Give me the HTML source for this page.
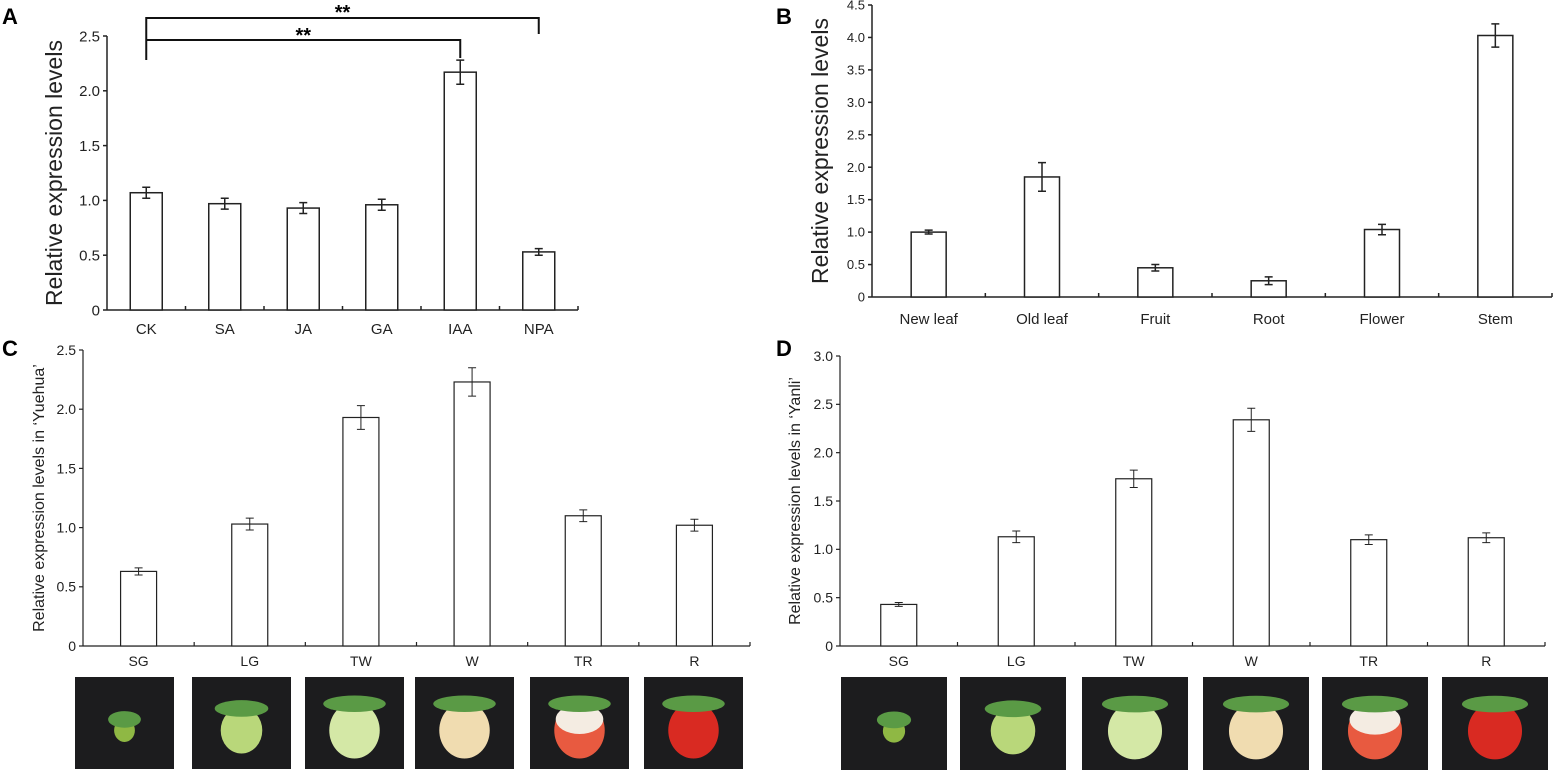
<!DOCTYPE html>
<html><head><meta charset="utf-8">
<style>
html,body{margin:0;padding:0;background:#fff;}
svg{display:block;font-family:"Liberation Sans",sans-serif;}
</style></head>
<body>
<svg id="fig" width="1553" height="772" viewBox="0 0 1553 772">
<g id="root"></g>
</svg>
<script>
// Panel A
const catsA = ["CK","SA","JA","GA","IAA","NPA"];
const valsA = [1.07,0.97,0.93,0.96,2.17,0.53];
const errsA = [0.05,0.05,0.05,0.05,0.11,0.03];
const ticksA = [0,0.5,1.0,1.5,2.0,2.5];
// Panel B
const catsB = ["New leaf","Old leaf","Fruit","Root","Flower","Stem"];
const valsB = [1.0,1.85,0.45,0.25,1.04,4.03];
const errsB = [0.03,0.22,0.05,0.06,0.08,0.18];
const ticksB = [0,0.5,1.0,1.5,2.0,2.5,3.0,3.5,4.0,4.5];
// Panel C
const catsC = ["SG","LG","TW","W","TR","R"];
const valsC = [0.63,1.03,1.93,2.23,1.10,1.02];
const errsC = [0.03,0.05,0.10,0.12,0.05,0.05];
const ticksC = [0,0.5,1.0,1.5,2.0,2.5];
// Panel D
const catsD = ["SG","LG","TW","W","TR","R"];
const valsD = [0.43,1.13,1.73,2.34,1.10,1.12];
const errsD = [0.02,0.06,0.09,0.12,0.05,0.05];
const ticksD = [0,0.5,1.0,1.5,2.0,2.5,3.0];

const NS="http://www.w3.org/2000/svg";
const root=document.getElementById('root');
function mk(tag,attrs,parent,text){
  const e=document.createElementNS(NS,tag);
  for(const k in attrs) e.setAttribute(k,attrs[k]);
  if(text!==undefined) e.textContent=text;
  (parent||root).appendChild(e);
  return e;
}
function fmt(t){return t===0?"0":t.toFixed(1);}

function panel(p){
  const g=mk('g',{});
  
  
  const ymax=p.ticks[p.ticks.length-1];
  const y=v=>p.y0-(v/ymax)*(p.y0-p.ytop);
  const band=(p.x1-p.x0)/p.cats.length;
  const xc=i=>p.x0+band*(i+0.5);
  const lw=p.lw;
  const ya=mk('line',{x1:p.x0,y1:p.y0,x2:p.x0,y2:p.ytop,stroke:'#222','stroke-width':lw},g);
  
  
  const xa=mk('line',{x1:p.x0,y1:p.y0,x2:p.x1,y2:p.y0,stroke:'#222','stroke-width':lw},g);
  
  
  p.ticks.forEach(t=>{
    mk('line',{x1:p.x0-4,y1:y(t),x2:p.x0,y2:y(t),stroke:'#222','stroke-width':lw},g);
    const tl=mk('text',{x:p.x0-7,y:y(t)+p.tfs*0.35,'text-anchor':'end','font-size':p.tfs,fill:'#222'},g,fmt(t));
    
    
  });
  for(let i=1;i<=p.cats.length;i++){
    mk('line',{x1:p.x0+band*i,y1:p.y0,x2:p.x0+band*i,y2:p.y0-4,stroke:'#222','stroke-width':lw},g);
  }
  p.cats.forEach((c,i)=>{
    const v=p.vals[i],e=p.errs[i];
    const r=mk('rect',{x:xc(i)-p.bw/2,y:y(v),width:p.bw,height:p.y0-y(v),fill:'#fff',stroke:'#222','stroke-width':lw},g);
    
    
    const eb=mk('path',{d:`M${xc(i)-4},${y(v+e)}H${xc(i)+4}M${xc(i)},${y(v+e)}V${y(v-e)}M${xc(i)-4},${y(v-e)}H${xc(i)+4}`,stroke:'#222','stroke-width':p.elw,fill:'none'},g);
    
    
    const xl=mk('text',{x:xc(i),y:p.y0+p.xly,'text-anchor':'middle','font-size':p.xfs,fill:'#222'},g,c);
    
    
  });
  const cy=(p.y0+p.ytop)/2;
  const tt=mk('text',{x:p.titleX,y:cy,'text-anchor':'middle','font-size':p.titleFs,fill:'#222',transform:`rotate(-90 ${p.titleX} ${cy})`},g,p.title);
  
  
  const lt=mk('text',{x:p.lx,y:p.ly,'font-size':22,'font-weight':'bold',fill:'#000'},g,p.id);
  
  
  return {y,xc};
}

const A=panel({id:'A',cats:catsA,vals:valsA,errs:errsA,ticks:ticksA,x0:107,x1:578,y0:310,ytop:36,bw:32,lw:1.5,elw:1.5,tfs:15,xfs:15,xly:24,titleX:62,titleFs:23,title:'Relative expression levels',lx:2,ly:24});
panel({id:'B',cats:catsB,vals:valsB,errs:errsB,ticks:ticksB,x0:872,x1:1552,y0:297,ytop:5,bw:35,lw:1.5,elw:1.5,tfs:13,xfs:15,xly:27,titleX:828,titleFs:23,title:'Relative expression levels',lx:776,ly:24});
panel({id:'C',cats:catsC,vals:valsC,errs:errsC,ticks:ticksC,x0:83,x1:750,y0:646,ytop:350,bw:36,lw:1.2,elw:1,tfs:14,xfs:14,xly:20,titleX:44,titleFs:16,title:'Relative expression levels in \u2018Yuehua\u2019',lx:2,ly:356});
panel({id:'D',cats:catsD,vals:valsD,errs:errsD,ticks:ticksD,x0:840,x1:1545,y0:646,ytop:356,bw:36,lw:1.2,elw:1,tfs:14,xfs:14,xly:20,titleX:800,titleFs:16,title:'Relative expression levels in \u2018Yanli\u2019',lx:776,ly:356});

const br=mk('path',{d:`M${A.xc(0)},60V18H${A.xc(5)}V34M${A.xc(0)},40H${A.xc(4)}V58`,stroke:'#111','stroke-width':2,fill:'none'});


const s1=mk('text',{x:(A.xc(0)+A.xc(5))/2,y:19,'text-anchor':'middle','font-size':20,'font-weight':'bold'},root,'**');


const s2=mk('text',{x:(A.xc(0)+A.xc(4))/2,y:42,'text-anchor':'middle','font-size':20,'font-weight':'bold'},root,'**');



const fruitCol=['#8fb844','#b9d77a','#d4e8a6','#f0dcb0','#e85a40','#d92a22'];
const sizes=[0.35,0.7,0.85,0.85,0.85,0.85];
function photos(xs,w,y,h){
  xs.forEach((x,i)=>{
    const g=mk('g',{});
    
    
    mk('rect',{x:x,y:y,width:w,height:h,fill:'#1c1c1e'},g);
    const cx=x+w/2,cy=y+h*0.58,s=sizes[i];
    mk('ellipse',{cx:cx,cy:cy,rx:w*0.3*s,ry:h*0.36*s,fill:fruitCol[i]},g);
    if(i==4) mk('ellipse',{cx:cx,cy:cy-h*0.12,rx:w*0.24,ry:h*0.16,fill:'#f4ece2'},g);
    mk('ellipse',{cx:cx,cy:cy-h*0.34*s,rx:w*0.3*s+6,ry:h*0.09,fill:'#5a9a45'},g);
  });
}
photos([75,192,305,415,530,644],99,677,92);
photos([841,960,1082,1203,1322,1442],106,677,93);
</script>
</body></html>
